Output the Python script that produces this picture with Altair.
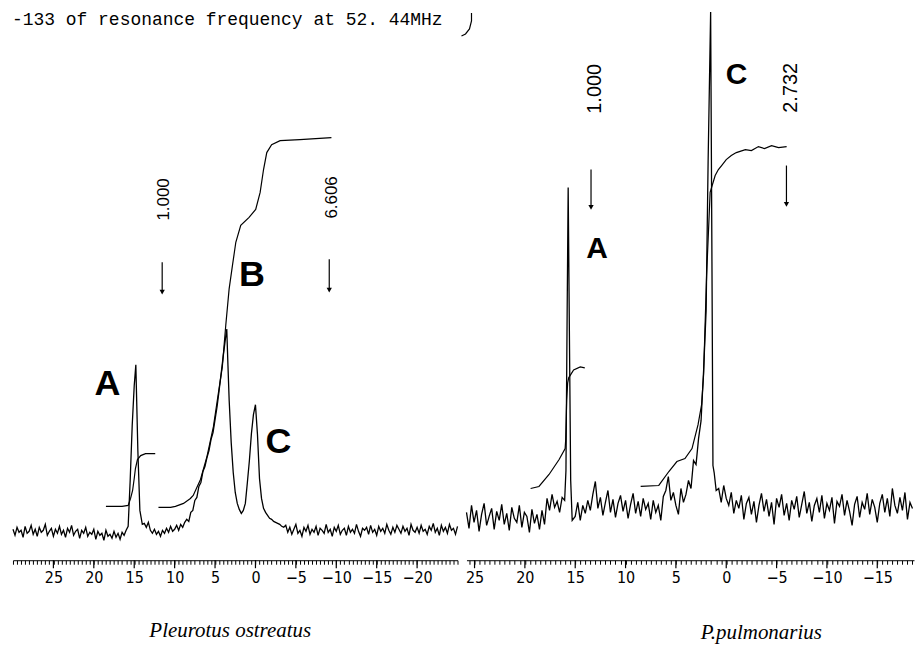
import altair as alt
import pandas as pd

# ============ LEFT PANEL : Pleurotus ostreatus ============
L_DOMAIN = [30.0, -25.0]
L_STEP = 0.25
# noisy baseline segments (start ppm, values every 0.25 ppm going upfield)
L_noise_a_start = 30.0
L_noise_a = [31, 25, 33, 28, 30, 23, 34, 27, 29, 35,
             26, 31, 24, 33, 28, 30, 36, 25, 29, 32,
             24, 31, 27, 34, 26, 30, 23, 32, 28, 35,
             25, 29, 31, 22, 30, 27, 33, 24, 28, 26,
             31, 21, 29, 25, 27, 20, 30, 24, 26, 22,
             29, 23, 27, 21, 28, 25, 30]
L_noise_b_start = 13.75
L_noise_b = [37, 33, 38, 30, 27, 31, 26, 29, 24, 30,
             27, 32, 28, 34, 29, 31, 35, 30, 36, 33, 38]
L_noise_c_start = -3.75
L_noise_c = [35, 28, 33, 26, 31, 36, 27, 30, 24, 33,
             29, 35, 26, 31, 28, 34, 25, 32, 30, 27,
             36, 28, 31, 24, 33, 29, 35, 26, 30, 32,
             25, 34, 28, 31, 27, 36, 29, 24, 32, 30,
             33, 26, 35, 28, 31, 25, 34, 29, 32, 27,
             36, 30, 26, 33, 28, 35, 31, 27, 34, 29,
             32, 25, 36, 30, 28, 33, 27, 35, 29, 31,
             26, 34, 30, 37, 28, 32, 25, 35, 29, 33,
             27, 36, 30, 32, 26, 34]
# peaks (ppm, intensity)
L_peakA_ppm = [15.75, 15.5, 15.25, 15.0, 14.8, 14.55, 14.3, 14.0]
L_peakA_val = [34, 80, 135, 175, 196, 110, 50, 36]
L_peakBC_ppm = [8.5, 8.25, 8.0, 7.75, 7.5, 7.25, 7.0, 6.75, 6.5, 6.25,
                6.0, 5.75, 5.5, 5.25, 5.0, 4.75, 4.5, 4.25, 4.0, 3.75,
                3.55, 3.4, 3.25, 3.0, 2.75, 2.5, 2.25, 2.0, 1.75, 1.5,
                1.25, 1.0, 0.75, 0.5, 0.25, 0.0, -0.25, -0.5, -0.75, -1.0,
                -1.25, -1.5, -1.75, -2.0, -2.25, -2.5, -2.75, -3.0, -3.25, -3.5]
L_peakBC_val = [41, 39, 48, 50, 60, 63, 74, 78, 89, 94,
                103, 110, 121, 128, 141, 154, 170, 187, 204, 220,
                232, 195, 160, 118, 88, 68, 57, 51, 47, 50,
                57, 78, 100, 127, 146, 156, 126, 82, 62, 52,
                48, 45, 42, 41, 39, 38, 37, 36, 34, 33]
# integral traces
L_intA_ppm = [18.5, 16.5, 15.75, 15.45, 15.2, 15.0, 14.85, 14.6, 14.2, 13.6, 12.4]
L_intA_val = [54, 54, 55, 62, 70, 82, 92, 101, 105, 107, 107]
L_intBC_ppm = [12.0, 10.5, 9.9, 8.9, 8.05, 7.7, 6.8, 6.0, 5.2, 4.6, 4.1, 3.67, 3.26,
               2.84, 2.43, 1.82, 0.79, -0.03, -0.58, -1.0, -1.4, -2.0, -3.05, -5.5, -9.4]
L_intBC_val = [53, 53, 54, 57, 62, 65, 81, 104, 134, 167, 194, 236, 272,
               296, 319, 336, 344, 352, 369, 392, 409, 417, 421, 422, 424]
L_arrow_ppm = [11.54, -9.13]
L_arrow_top = [299, 302]
L_arrow_bot = [269, 271]
L_intlabel_ppm = [11.34, -9.42]
L_intlabel_val = [362, 364]
L_intlabel_txt = ["1.000", "6.606"]
L_letter_ppm = [18.3, 0.44, -2.84]
L_letter_val = [177, 286, 119]
L_letter_txt = ["A", "B", "C"]
L_major = [25, 20, 15, 10, 5, 0, -5, -10, -15, -20]
L_title = "-133 of resonance frequency at 52. 44MHz"
L_title_pos = (-23.15, 542)
L_bracket_ppm = [-26.73, -26.73, -26.48, -25.99, -25.49]
L_bracket_val = [549, 541, 533, 528, 526]
L_species = "Pleurotus ostreatus"
L_species_pos = (3.12, -71)

# ============ RIGHT PANEL : P.pulmonarius ============
R_DOMAIN = [25.8, -18.65]
R_STEP = 0.25
R_noise_a_start = 25.8
R_noise_a = [48, 32, 55, 38, 50, 29, 46, 57, 35, 44,
             52, 31, 49, 40, 56, 36, 47, 30, 53, 42,
             38, 55, 33, 48, 44, 28, 51, 37, 46, 31,
             50, 36]
R_noise_b_start = 17.8
R_noise_b = [62, 50, 66, 53, 59, 48, 63]
R_noise_c_start = 15.0
R_noise_c = [44, 58, 40, 55, 47, 60, 50, 66, 79, 52,
             63, 45, 58, 70, 48, 61, 43, 57, 65, 49,
             60, 42, 56, 67, 47, 59, 44, 62, 51, 57,
             41, 60, 48, 55, 40, 64, 70, 84, 60, 68,
             55, 46, 72, 58]
R_noise_d_start = 0.75
R_noise_d = [72, 58, 75, 62, 55, 68, 47, 60, 52, 65,
             41, 57, 63, 46, 59, 38, 55, 67, 49, 61,
             44, 58, 36, 62, 53, 66, 45, 57, 40, 60,
             51, 64, 43, 56, 69, 47, 58, 39, 55, 62,
             48, 65, 42, 57, 50, 63, 37, 59, 54, 66,
             45, 60, 49, 35, 56, 64, 43, 58, 51, 67,
             46, 61, 53, 38, 57, 66, 48, 62, 44, 72,
             55, 47, 63, 50, 68, 41, 58, 52]
R_peakA_ppm = [16.05, 15.92, 15.8, 15.7, 15.58, 15.45, 15.3]
R_peakA_val = [60, 90, 250, 374, 230, 80, 40]
R_peakC_ppm = [4.0, 3.75, 3.5, 3.25, 3.0, 2.75, 2.5, 2.25, 2.0, 1.8, 1.55, 1.42, 1.32, 1.2, 1.0]
R_peakC_val = [66, 80, 72, 100, 96, 122, 140, 190, 250, 400, 550, 300, 95, 88, 70]
R_intA_ppm = [19.43, 18.6, 17.6, 16.6, 16.0, 15.95, 15.85, 15.75, 15.65, 15.16, 14.5, 14.05]
R_intA_val = [72, 74, 86, 101, 112, 120, 160, 178, 183, 191, 194, 193]
R_intC_ppm = [8.5, 6.7, 5.7, 4.9, 4.1, 3.4, 2.8, 2.45, 2.25, 1.95, 1.6, 1.1, 0.78, 0.46,
              0.0, -0.5, -1.0, -1.9, -2.5, -3.2, -3.8, -4.5, -5.2, -6.0]
R_intC_val = [74, 75, 89, 99, 102, 112, 136, 156, 186, 286, 369, 386, 392, 396,
              402, 406, 409, 412, 411, 415, 413, 416, 414, 415]
R_arrow_ppm = [13.43, -5.98]
R_arrow_top = [392, 396]
R_arrow_bot = [354, 357]
R_intlabel_ppm = [12.99, -6.44]
R_intlabel_val = [473, 474]
R_intlabel_txt = ["1.000", "2.732"]
R_letter_ppm = [12.83, -1.03]
R_letter_val = [312, 487]
R_letter_txt = ["A", "C"]
R_major = [25, 20, 15, 10, 5, 0, -5, -10, -15]
R_species = "P.pulmonarius"
R_species_pos = (-3.48, -73)

PLOT_H = 551
TICK_FONT = "DejaVu Sans Condensed, Liberation Sans Narrow, Liberation Sans"
MINUS = "\u2212"


def noise_pts(start, step, vals, lo, hi):
    out = []
    for k, v in enumerate(vals):
        p = start - step * k
        if lo <= p <= hi:
            out.append((p, v))
    return out


def spectrum_df(segments):
    rows = []
    for pp, vv in segments:
        rows += list(zip(pp, vv))
    df = pd.DataFrame(rows, columns=["ppm", "val"]).sort_values("ppm")
    return df


def panel(spec, ints, arrows, ilabels, letters, majors, domain, width,
          letter_size, ilabel_size, species, species_pos, extra=None):
    xs = alt.Scale(domain=domain, nice=False, zero=False)
    ys = alt.Scale(domain=[0, PLOT_H], nice=False, zero=False)
    hi, lo = domain
    minor = []
    v = float(int(hi * 2)) / 2.0
    while v >= lo - 1e-9:
        minor.append(v)
        v -= 0.5
    lab_hi, lab_lo = max(majors), min(majors)
    expr = (f"(abs(datum.value) % 5 == 0 && datum.value <= {lab_hi} && datum.value >= {lab_lo}) ? "
            f"replace(toString(round(datum.value)), '-', '{MINUS}') : ''")
    axis = alt.Axis(values=minor, tickSize=4, tickColor="black", tickWidth=1,
                    domainColor="black", domainWidth=1, grid=False, title=None,
                    labelExpr=expr,
                    labelOverlap=False, labelFlush=False, labelAngle=0,
                    labelFont=TICK_FONT, labelFontSize=16, labelColor="black",
                    labelPadding=5)
    X = lambda f="ppm": alt.X(f"{f}:Q", scale=xs, axis=axis)
    Y = lambda f="val": alt.Y(f"{f}:Q", scale=ys, axis=None)

    line = alt.Chart(spec).mark_line(color="black", strokeWidth=1.3).encode(x=X(), y=Y())
    integ = alt.Chart(ints).mark_line(color="black", strokeWidth=1.2).encode(
        x=X(), y=Y(), detail="seg:N")
    arr = alt.Chart(arrows).mark_rule(color="black", strokeWidth=1.2).encode(
        x=X(), y=Y("val"), y2="val2:Q")
    heads = alt.Chart(arrows).mark_point(shape="triangle-down", filled=True, size=28,
                                         color="black", opacity=1).encode(x=X(), y=Y("val2"))
    ilab = alt.Chart(ilabels).mark_text(angle=270, align="center", baseline="middle",
                                        font="Liberation Sans", fontSize=ilabel_size,
                                        color="black").encode(x=X(), y=Y(), text="txt:N")
    let = alt.Chart(letters).mark_text(align="center", baseline="middle",
                                       font="Liberation Sans", fontWeight="bold",
                                       fontSize=letter_size, color="black").encode(
        x=X(), y=Y(), text="txt:N")
    major_df = pd.DataFrame({"ppm": majors})
    maj = alt.Chart(major_df).mark_rule(color="black", strokeWidth=1.2).encode(
        x=X(), y=alt.value(PLOT_H), y2=alt.value(PLOT_H + 8))
    sp = alt.Chart(pd.DataFrame({"ppm": [species_pos[0]], "val": [species_pos[1]],
                                 "txt": [species]})).mark_text(
        align="center", baseline="middle", font="Liberation Serif", fontStyle="italic",
        fontSize=21, color="black").encode(x=X(), y=Y(), text="txt:N")
    layers = [line, integ, arr, heads, ilab, let, maj, sp]
    if extra:
        layers += extra(X, Y)
    return alt.layer(*layers).properties(width=width, height=PLOT_H)


# ---- left data frames ----
L_spec = spectrum_df([
    zip(*noise_pts(L_noise_a_start, L_STEP, L_noise_a, 15.9, 30.0)),
    (L_peakA_ppm, L_peakA_val),
    zip(*noise_pts(L_noise_b_start, L_STEP, L_noise_b, 8.6, 13.9)),
    (L_peakBC_ppm, L_peakBC_val),
    zip(*noise_pts(L_noise_c_start, L_STEP, L_noise_c, -25.0, -3.6)),
])
L_ints = pd.concat([
    pd.DataFrame({"ppm": L_intA_ppm, "val": L_intA_val, "seg": "A"}),
    pd.DataFrame({"ppm": L_intBC_ppm, "val": L_intBC_val, "seg": "BC"}),
])
L_arr = pd.DataFrame({"ppm": L_arrow_ppm, "val": L_arrow_top, "val2": L_arrow_bot})
L_il = pd.DataFrame({"ppm": L_intlabel_ppm, "val": L_intlabel_val, "txt": L_intlabel_txt})
L_let = pd.DataFrame({"ppm": L_letter_ppm, "val": L_letter_val, "txt": L_letter_txt})


def left_extra(X, Y):
    title = alt.Chart(pd.DataFrame({"ppm": [L_title_pos[0]], "val": [L_title_pos[1]],
                                    "txt": [L_title]})).mark_text(
        align="right", baseline="middle", font="Liberation Mono", fontSize=18,
        color="black", clip=True).encode(x=X(), y=Y(), text="txt:N")
    br = alt.Chart(pd.DataFrame({"ppm": L_bracket_ppm, "val": L_bracket_val,
                                 "o": list(range(len(L_bracket_ppm)))})).mark_line(
        color="black", strokeWidth=1.2).encode(x=X(), y=Y(), order="o:Q")
    return [title, br]


left = panel(L_spec, L_ints, L_arr, L_il, L_let, L_major, L_DOMAIN, 446,
             36, 17, L_species, L_species_pos, left_extra)

# ---- right data frames ----
R_spec = spectrum_df([
    zip(*noise_pts(R_noise_a_start, R_STEP, R_noise_a, 17.95, 25.8)),
    zip(*noise_pts(R_noise_b_start, R_STEP, R_noise_b, 16.2, 17.85)),
    (R_peakA_ppm, R_peakA_val),
    zip(*noise_pts(R_noise_c_start, R_STEP, R_noise_c, 4.2, 15.05)),
    (R_peakC_ppm, R_peakC_val),
    zip(*noise_pts(R_noise_d_start, R_STEP, R_noise_d, -18.65, 0.8)),
])
R_ints = pd.concat([
    pd.DataFrame({"ppm": R_intA_ppm, "val": R_intA_val, "seg": "A"}),
    pd.DataFrame({"ppm": R_intC_ppm, "val": R_intC_val, "seg": "C"}),
])
R_arr = pd.DataFrame({"ppm": R_arrow_ppm, "val": R_arrow_top, "val2": R_arrow_bot})
R_il = pd.DataFrame({"ppm": R_intlabel_ppm, "val": R_intlabel_val, "txt": R_intlabel_txt})
R_let = pd.DataFrame({"ppm": R_letter_ppm, "val": R_letter_val, "txt": R_letter_txt})

right = panel(R_spec, R_ints, R_arr, R_il, R_let, R_major, R_DOMAIN, 449,
              30, 20, R_species, R_species_pos)

chart = alt.hconcat(left, right, spacing=9, bounds="flush").properties(
    padding={"left": 2, "right": 0, "top": 0, "bottom": 0},
    background="white",
).configure_view(stroke=None)

chart.save("out.html", embed_options={"renderer": "svg", "actions": False})
